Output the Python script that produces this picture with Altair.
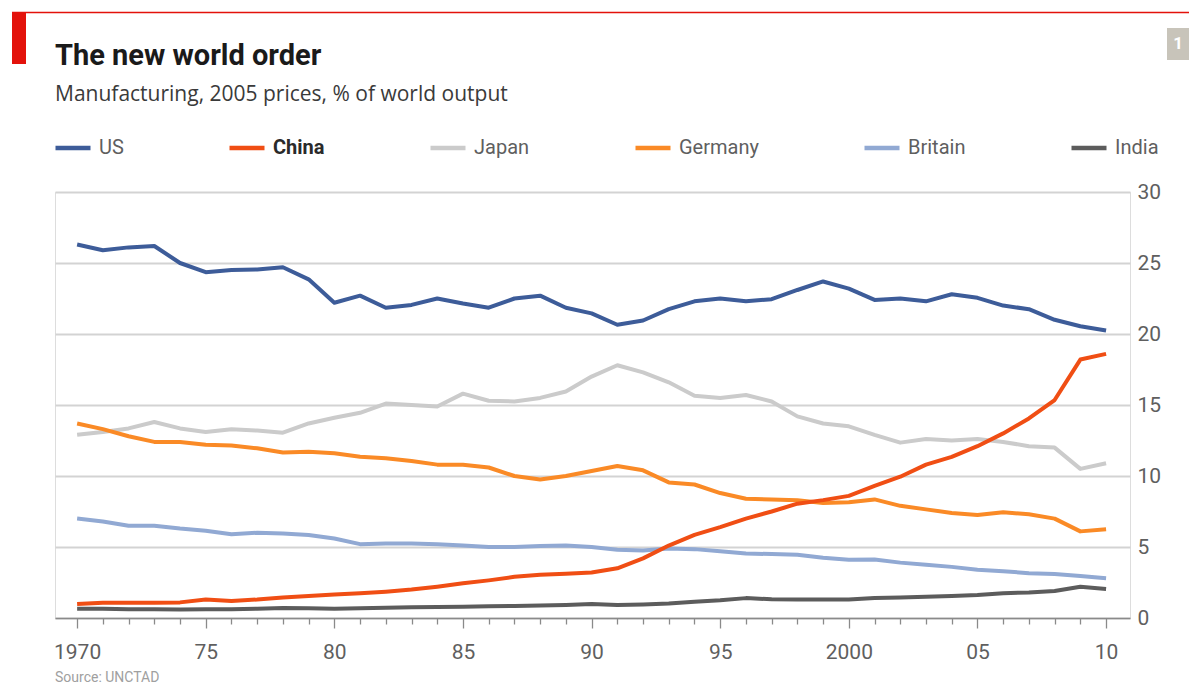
import altair as alt
import pandas as pd

years = list(range(1970, 2011))

us = [26.3, 25.9, 26.1, 26.2, 25.0, 24.35, 24.5, 24.55, 24.7, 23.85,
      22.2, 22.7, 21.85, 22.05, 22.5, 22.15, 21.85, 22.5, 22.7, 21.85,
      21.45, 20.65, 20.95, 21.75, 22.3, 22.5, 22.3, 22.45, 23.1, 23.7,
      23.2, 22.4, 22.5, 22.3, 22.8, 22.55, 22.0, 21.75, 21.0, 20.55, 20.25]
china = [0.99, 1.08, 1.08, 1.08, 1.1, 1.3, 1.2, 1.3, 1.45, 1.55,
         1.65, 1.74, 1.85, 2.0, 2.2, 2.44, 2.65, 2.9, 3.05, 3.12,
         3.2, 3.5, 4.2, 5.1, 5.85, 6.4, 7.0, 7.5, 8.05, 8.3,
         8.6, 9.3, 9.95, 10.8, 11.35, 12.1, 13.0, 14.05, 15.35, 18.2, 18.6]
japan = [12.9, 13.1, 13.35, 13.8, 13.35, 13.1, 13.3, 13.2, 13.05, 13.7,
         14.1, 14.45, 15.1, 15.0, 14.9, 15.8, 15.3, 15.25, 15.5, 15.95,
         17.0, 17.8, 17.3, 16.6, 15.65, 15.5, 15.7, 15.25, 14.2, 13.7,
         13.5, 12.9, 12.35, 12.6, 12.5, 12.6, 12.4, 12.1, 12.0, 10.5, 10.9]
germany = [13.7, 13.3, 12.8, 12.4, 12.4, 12.2, 12.15, 11.95, 11.65, 11.7,
           11.6, 11.35, 11.25, 11.05, 10.8, 10.8, 10.6, 10.0, 9.75, 10.0,
           10.35, 10.7, 10.4, 9.55, 9.4, 8.8, 8.4, 8.35, 8.3, 8.1,
           8.15, 8.35, 7.9, 7.65, 7.4, 7.25, 7.45, 7.3, 7.0, 6.1, 6.25]
britain = [7.0, 6.8, 6.5, 6.5, 6.3, 6.15, 5.9, 6.0, 5.95, 5.85,
           5.6, 5.2, 5.25, 5.25, 5.2, 5.1, 5.0, 5.0, 5.07, 5.1,
           5.0, 4.8, 4.75, 4.9, 4.85, 4.7, 4.55, 4.5, 4.45, 4.25,
           4.1, 4.12, 3.9, 3.75, 3.6, 3.4, 3.3, 3.15, 3.1, 2.95, 2.8]
india = [0.65, 0.65, 0.62, 0.62, 0.6, 0.62, 0.62, 0.65, 0.7, 0.68,
         0.65, 0.68, 0.72, 0.75, 0.78, 0.8, 0.82, 0.85, 0.88, 0.92,
         0.98, 0.92, 0.95, 1.02, 1.15, 1.25, 1.4, 1.32, 1.3, 1.3,
         1.3, 1.4, 1.45, 1.5, 1.55, 1.62, 1.75, 1.8, 1.9, 2.2, 2.05]

legend_order = ["US", "China", "Japan", "Germany", "Britain", "India"]
colors = ["#3d5c99", "#f04e14", "#cbcbcb", "#fa8a26", "#91a9d3", "#5c5c5c"]
y_ticks = [0, 5, 10, 15, 20, 25, 30]

series = {"India": india, "Britain": britain, "Japan": japan,
          "Germany": germany, "US": us, "China": china}
rows = []
for name, vals in series.items():
    for yr, v in zip(years, vals):
        rows.append({"year": yr, "value": v, "country": name})
df = pd.DataFrame(rows)

FONT = "Roboto"
SUB_FONT = "'Open Sans'"

lines = alt.Chart(df).mark_line(strokeWidth=4, strokeCap="butt", strokeJoin="round").encode(
    x=alt.X("year:Q",
            scale=alt.Scale(domain=[1969.14, 2010.93], nice=False, zero=False),
            axis=alt.Axis(title=None, values=years, grid=False,
                          labelExpr="datum.value % 5 != 0 ? '' : (datum.value == 1970 || datum.value == 2000) ? '' + datum.value : substring('' + datum.value, 2)",
                          labelOverlap=False, labelFlush=False,
                          tickSize={"condition": {"test": "datum.value % 5 == 0", "value": 10}, "value": 6},
                          tickColor="#8a8a8a", tickWidth=1.3,
                          domainColor="#8a8a8a", domainWidth=1.5,
                          labelFont=FONT, labelFontSize=21, labelColor="#5f5f5f",
                          labelPadding=13)),
    y=alt.Y("value:Q",
            scale=alt.Scale(domain=[0, 30], nice=False),
            axis=alt.Axis(title=None, orient="right", values=y_ticks, grid=True,
                          gridColor="#d3d3d3", gridWidth=1.8, domain=False, ticks=False,
                          labelFont=FONT, labelFontSize=21, labelColor="#5f5f5f",
                          labelPadding=7)),
    color=alt.Color("country:N",
                    scale=alt.Scale(domain=legend_order, range=colors),
                    legend=alt.Legend(title=None, orient="none", legendX=-2, legendY=-64,
                                      direction="horizontal", columns=6,
                                      columnPadding=96, symbolType="stroke",
                                      symbolSize=1225, symbolStrokeWidth=4.5,
                                      labelOffset=6, labelFont=FONT, labelFontSize=20,
                                      labelFontWeight={"expr": "datum.value == 'China' ? 'bold' : 'normal'"},
                                      labelColor={"expr": "datum.value == 'China' ? '#2a2a2a' : '#5f5f5f'"})),
)

one = pd.DataFrame({"t": [""]})

red_line = alt.Chart(one).mark_rule(color="#e3120b", strokeWidth=1.5).encode(
    x=alt.value(-43), x2=alt.value(1134), y=alt.value(-179.5))
red_block = alt.Chart(one).mark_rect(color="#e3120b").encode(
    x=alt.value(-43), x2=alt.value(-29), y=alt.value(-180), y2=alt.value(-128))
grey_box = alt.Chart(one).mark_rect(color="#c8c4ba").encode(
    x=alt.value(1112), x2=alt.value(1134), y=alt.value(-164), y2=alt.value(-132))
box_text = alt.Chart(pd.DataFrame({"t": ["1"]})).mark_text(
    font=FONT, fontSize=17, fontWeight="bold", color="white", align="center", baseline="middle"
).encode(text="t:N", x=alt.value(1123), y=alt.value(-148))

title = alt.Chart(pd.DataFrame({"t": ["The new world order"]})).mark_text(
    font=FONT, fontSize=29, fontWeight="bold", color="#1a1a1a", align="left", baseline="alphabetic"
).encode(text="t:N", x=alt.value(0), y=alt.value(-127))
subtitle = alt.Chart(pd.DataFrame({"t": ["Manufacturing, 2005 prices, % of world output"]})).mark_text(
    font=SUB_FONT, fontSize=21, color="#3a3a3a", align="left", baseline="alphabetic"
).encode(text="t:N", x=alt.value(0), y=alt.value(-91))
source = alt.Chart(pd.DataFrame({"t": ["Source: UNCTAD"]})).mark_text(
    font=FONT, fontSize=14, color="#a0a0a0", align="left", baseline="middle"
).encode(text="t:N", x=alt.value(0), y=alt.value(486))

chart = alt.layer(
    lines, red_line, red_block, grey_box, box_text, title, subtitle, source
).properties(
    width=1075, height=426,
    autosize=alt.AutoSizeParams(type="none"),
    padding={"left": 47, "top": 184, "right": 59, "bottom": 69},
).configure_view(stroke=None).configure(background="white")

chart.save("out.html", embed_options={"renderer": "svg", "actions": False})
